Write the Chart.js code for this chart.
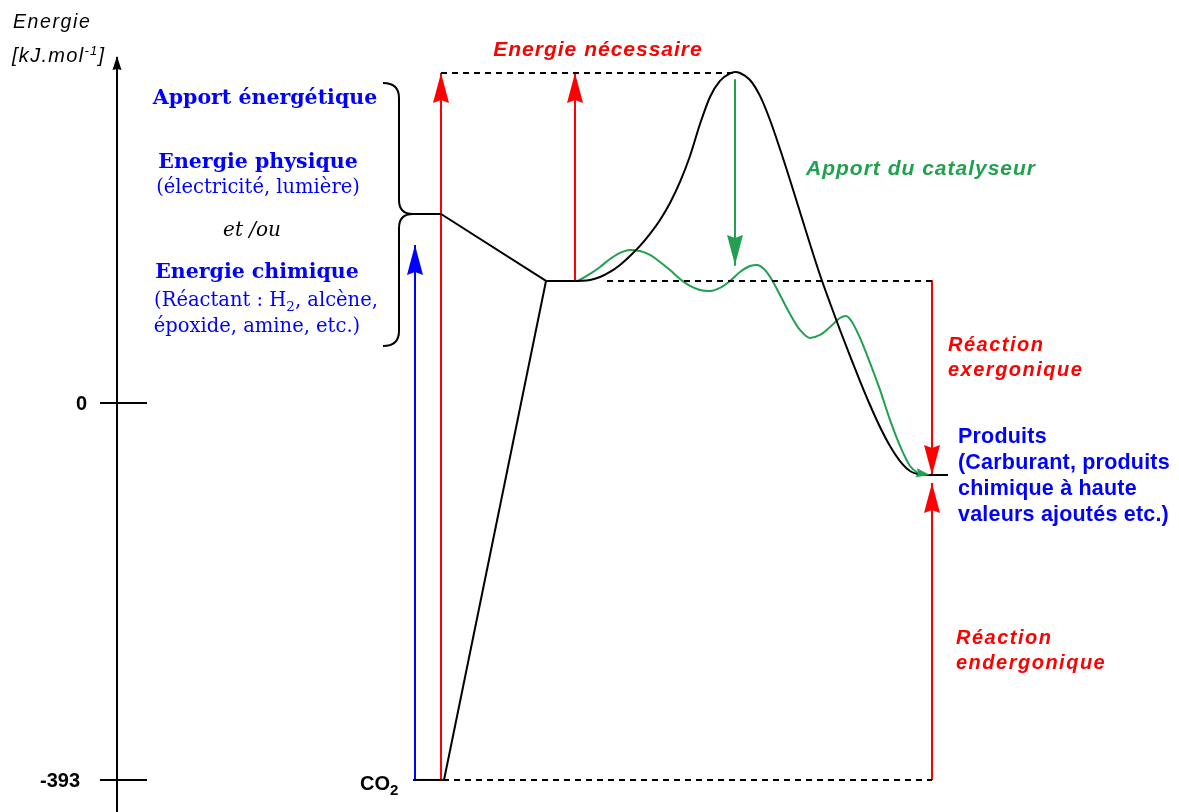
<!DOCTYPE html>
<html><head><meta charset="utf-8">
<script src="https://cdn.jsdelivr.net/npm/chart.js@4.4.1/dist/chart.umd.min.js"></script>
<style>html,body{margin:0;padding:0;background:#fff;overflow:hidden}canvas{display:block}</style>
</head><body>
<canvas id="c" width="1179" height="812"></canvas>
<script>
// ---------------- DATA (energy in kJ.mol-1, x = reaction coordinate, arbitrary units) ----------------
const yTicks = [0, -393];
const yTickLabels = ['0', '-393'];

const eCO2 = -393;       // CO2 level
const eInput = 197;      // energy brought (brace junction)
const eInter = 127.2;    // activated intermediate level
const eProduct = -75.1;  // products
const eTop = 344;        // top of uncatalysed barrier

// uncatalysed path (black)
const blackX = [578, 590, 600, 610, 620, 630, 640, 650, 660, 670, 680, 690, 700, 710, 720, 730, 735, 740, 750, 760, 770, 780, 790, 800, 810, 820, 830, 840, 850, 860, 870, 880, 890, 900, 910, 920];
const blackE = [127.2, 128.2, 131.3, 136.6, 143.9, 153.2, 163.7, 176.2, 190.8, 208.5, 230.4, 257.5, 290.8, 319.0, 335.7, 343.5, 345.0, 344.0, 336.7, 320.1, 295.0, 264.8, 232.5, 199.1, 165.7, 133.4, 104.2, 76.1, 49.0, 22.9, -2.1, -25.0, -44.8, -60.5, -70.9, -75.1];

// catalysed path (green)
const greenX = [578, 590, 600, 610, 620, 630, 640, 650, 660, 670, 680, 690, 700, 710, 720, 730, 740, 750, 757, 765, 772, 780, 790, 800, 810, 820, 830, 840, 846, 852, 860, 870, 880, 890, 900, 910, 918];
const greenE = [127.2, 134.5, 141.8, 150.1, 156.4, 159.5, 158.4, 154.3, 147.0, 138.6, 129.3, 122.0, 117.8, 116.8, 119.9, 127.2, 136.6, 142.8, 143.9, 138.6, 128.2, 112.6, 92.8, 76.1, 67.8, 70.9, 79.2, 88.6, 90.7, 84.4, 67.8, 41.7, 13.6, -17.7, -44.8, -65.7, -73.0];
const greenTip = [930, -75.1];

// vertical arrows
const arrowX    = [415, 441, 575, 735, 932, 932];
const arrowFrom = [-393, -393, 127.2, 336.7, 127.2, -393];
const arrowTo   = [164.7, 344, 344, 143.9, -75.1, -83.4];
const arrowKind = ['blue', 'red', 'red', 'green', 'red', 'red'];

// braces (energy values of their ends)
const braceTopE = 333.6, braceMidE = 197, braceBotE = 59.4;

// ---------------- STYLE ----------------
const COL = { red: '#ff0000', blue: '#0000ff', green: '#21a04f', black: '#000000' };
const yMin = -426.4, yMax = 420.1, xMin = 0, xMax = 1179;
const axisTopE = 360.7;
const SANS = '"Liberation Sans", Arial, sans-serif';
const SERIF = '"DejaVu Serif", serif';

function line(points, color, opts = {}) {
  return Object.assign({
    data: points.map(([x, y]) => ({ x, y })),
    showLine: true, borderColor: color, borderWidth: 2, pointRadius: 0,
    fill: false, tension: 0, borderCapStyle: 'butt', borderJoinStyle: 'round'
  }, opts);
}

const datasets = [];
// y axis + ticks
datasets.push(line([[117, yMin], [117, axisTopE]], COL.black));
yTicks.forEach(v => datasets.push(line([[100, v], [147, v]], COL.black)));
// dashed guides
const dash = { borderDash: [6, 5], borderWidth: 2 };
datasets.push(line([[441, eTop], [735, eTop]], COL.black, dash));
datasets.push(line([[607, eInter], [932, eInter]], COL.black, dash));
datasets.push(line([[443, eCO2], [932, eCO2]], COL.black, dash));
// levels and straight segments
datasets.push(line([[413, eCO2], [444, eCO2]], COL.black));
datasets.push(line([[444, eCO2], [546, eInter]], COL.black));
datasets.push(line([[412, eInput], [441, eInput], [546, eInter], [580, eInter]], COL.black));
datasets.push(line([[920, eProduct], [948, eProduct]], COL.black));
// curves
const smooth = { cubicInterpolationMode: 'monotone' };
datasets.push(line(blackX.map((x, i) => [x, blackE[i]]), COL.black, smooth));
datasets.push(line(greenX.map((x, i) => [x, greenE[i]]).concat([[greenTip[0] - 6, greenTip[1]]]), COL.green, smooth));
// arrow shafts
arrowX.forEach((x, i) => datasets.push(line([[x, arrowFrom[i]], [x, arrowTo[i]]], COL[arrowKind[i]])));

// ---------------- TEXT ----------------
const texts = [
  { parts: [{ t: 'Energie' }], x: 13, y: 28, font: 'italic 19.5px ' + SANS, ls: 1.6, color: COL.black },
  { parts: [{ t: '[kJ.mol' }, { t: '-1', sup: 1 }, { t: ']' }], x: 12, y: 62, font: 'italic 20px ' + SANS, small: 'italic 13px ' + SANS, ls: 1.3, color: COL.black },
  { parts: [{ t: 'CO' }, { t: '2', sub: 1 }], x: 360, y: 790, font: 'bold 20px ' + SANS, small: 'bold 15px ' + SANS, color: COL.black },
  { parts: [{ t: 'Energie nécessaire' }], x: 598, y: 56, align: 'center', font: 'italic bold 21px ' + SANS, ls: 1, color: COL.red },
  { parts: [{ t: 'Apport du catalyseur' }], x: 806, y: 175, font: 'italic bold 21px ' + SANS, ls: 1, color: COL.green },
  { parts: [{ t: 'Réaction' }], x: 948, y: 351, font: 'italic bold 20px ' + SANS, ls: 1.5, color: COL.red },
  { parts: [{ t: 'exergonique' }], x: 948, y: 376, font: 'italic bold 20px ' + SANS, ls: 1.5, color: COL.red },
  { parts: [{ t: 'Réaction' }], x: 956, y: 644, font: 'italic bold 20px ' + SANS, ls: 1.5, color: COL.red },
  { parts: [{ t: 'endergonique' }], x: 956, y: 669, font: 'italic bold 20px ' + SANS, ls: 1.5, color: COL.red },
  { parts: [{ t: 'Produits' }], x: 958, y: 443, font: 'bold 21.5px ' + SANS, ls: 0.2, color: COL.blue },
  { parts: [{ t: '(Carburant, produits' }], x: 958, y: 469, font: 'bold 21.5px ' + SANS, ls: 0.2, color: COL.blue },
  { parts: [{ t: 'chimique à haute' }], x: 958, y: 495, font: 'bold 21.5px ' + SANS, ls: 0.2, color: COL.blue },
  { parts: [{ t: 'valeurs ajoutés etc.)' }], x: 958, y: 521, font: 'bold 21.5px ' + SANS, ls: 0.2, color: COL.blue },
  { parts: [{ t: 'Apport énergétique' }], x: 265, y: 104, align: 'center', font: 'bold 20.5px ' + SERIF, color: COL.blue },
  { parts: [{ t: 'Energie physique' }], x: 258, y: 168, align: 'center', font: 'bold 20.5px ' + SERIF, color: COL.blue },
  { parts: [{ t: '(électricité, lumière)' }], x: 258, y: 193, align: 'center', font: '19.5px ' + SERIF, color: COL.blue },
  { parts: [{ t: 'et /ou' }], x: 252, y: 236, align: 'center', font: 'italic 20px ' + SERIF, color: COL.black },
  { parts: [{ t: 'Energie chimique' }], x: 257, y: 278, align: 'center', font: 'bold 20.5px ' + SERIF, color: COL.blue },
  { parts: [{ t: '(Réactant : H' }, { t: '2', sub: 1 }, { t: ', alcène,' }], x: 266, y: 306, align: 'center', font: '19.5px ' + SERIF, small: '13.5px ' + SERIF, color: COL.blue },
  { parts: [{ t: 'époxide, amine, etc.)' }], x: 257, y: 332, align: 'center', font: '19.5px ' + SERIF, color: COL.blue }
];
const tickLabelRight = [87, 80];

function drawRich(ctx, it) {
  ctx.save();
  ctx.textAlign = 'left'; ctx.textBaseline = 'alphabetic';
  ctx.fillStyle = it.color;
  ctx.letterSpacing = (it.ls || 0) + 'px';
  const widths = it.parts.map(p => { ctx.font = (p.sub || p.sup) ? it.small : it.font; return ctx.measureText(p.t).width; });
  const w = widths.reduce((a, b) => a + b, 0);
  let x = it.align === 'center' ? it.x - w / 2 : it.align === 'right' ? it.x - w : it.x;
  it.parts.forEach((p, i) => {
    ctx.font = (p.sub || p.sup) ? it.small : it.font;
    const dy = p.sub ? 5 : p.sup ? -7 : 0;
    ctx.fillText(p.t, x, it.y + dy);
    x += widths[i];
  });
  ctx.restore();
}

function head(ctx, tx, ty, ang, len, hw, notch, col) {
  ctx.save();
  ctx.translate(tx, ty); ctx.rotate(ang);
  ctx.beginPath();
  ctx.moveTo(0, 0); ctx.lineTo(-len, hw); ctx.lineTo(-len + notch, 0); ctx.lineTo(-len, -hw); ctx.closePath();
  ctx.fillStyle = col; ctx.fill();
  ctx.restore();
}

const decor = {
  id: 'decor',
  afterDatasetsDraw(chart) {
    const ctx = chart.ctx;
    const X = v => chart.scales.x.getPixelForValue(v);
    const Y = v => chart.scales.y.getPixelForValue(v);
    // axis arrow head
    head(ctx, X(117), Y(axisTopE) - 1, -Math.PI / 2, 14, 4.5, 1, COL.black);
    // vertical arrow heads
    arrowX.forEach((x, i) => {
      const up = arrowTo[i] > arrowFrom[i];
      head(ctx, X(x), Y(arrowTo[i]), up ? -Math.PI / 2 : Math.PI / 2, 30, 8, 3, COL[arrowKind[i]]);
    });
    // green end arrow
    const gx0 = X(greenX[greenX.length - 1]), gy0 = Y(greenE[greenE.length - 1]);
    const gx1 = X(greenTip[0]), gy1 = Y(greenTip[1]);
    head(ctx, gx1, gy1, Math.atan2(gy1 - gy0, gx1 - gx0), 14, 4.5, 2, COL.green);
    // braces
    ctx.save();
    ctx.strokeStyle = COL.black; ctx.lineWidth = 2;
    const sx = X(399), ex = X(383), tx = X(413);
    const t = Y(braceTopE), m = Y(braceMidE), b = Y(braceBotE);
    ctx.beginPath();
    ctx.moveTo(ex, t); ctx.quadraticCurveTo(sx, t, sx, t + 15); ctx.lineTo(sx, m - 14); ctx.quadraticCurveTo(sx, m, tx, m);
    ctx.moveTo(tx, m); ctx.quadraticCurveTo(sx, m, sx, m + 14); ctx.lineTo(sx, b - 15); ctx.quadraticCurveTo(sx, b, ex, b);
    ctx.stroke();
    ctx.restore();
    // tick labels
    yTicks.forEach((v, i) => drawRich(ctx, { parts: [{ t: yTickLabels[i] }], x: tickLabelRight[i], y: Y(v) + 7, align: 'right', font: 'bold 20px ' + SANS, color: COL.black }));
    texts.forEach(it => drawRich(ctx, it));
  }
};

new Chart(document.getElementById('c'), {
  type: 'scatter',
  data: { datasets },
  options: {
    responsive: false, animation: false, devicePixelRatio: 1,
    layout: { padding: 0 },
    plugins: { legend: { display: false }, tooltip: { enabled: false } },
    scales: {
      x: { type: 'linear', min: xMin, max: xMax, display: false },
      y: { type: 'linear', min: yMin, max: yMax, display: false }
    }
  },
  plugins: [decor]
});
</script>
</body></html>
